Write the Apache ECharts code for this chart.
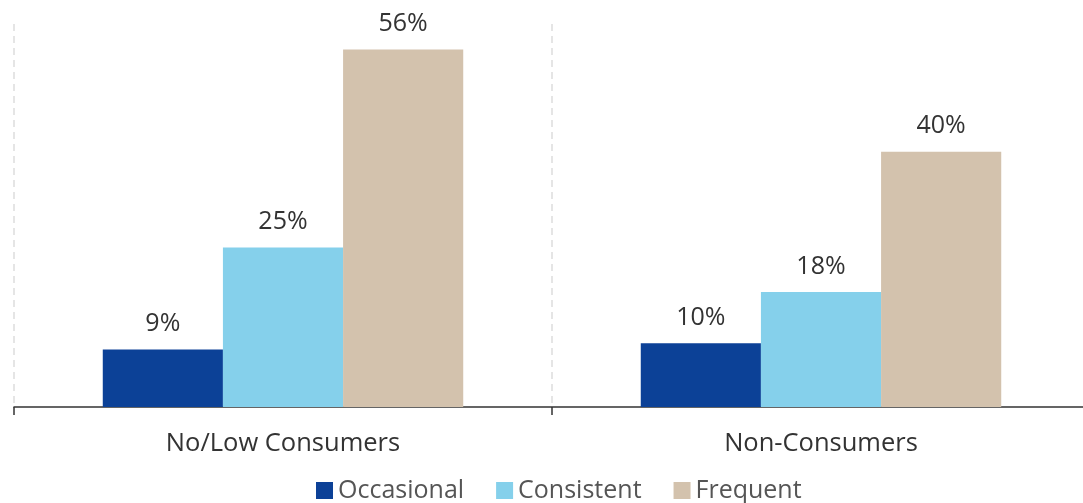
<!DOCTYPE html>
<html>
<head>
<meta charset="utf-8">
<script src="https://cdn.jsdelivr.net/npm/echarts@6/dist/echarts.min.js"></script>
<style>
  html, body { margin: 0; padding: 0; background: #fff; }
  #chart { width: 1083px; height: 503px; }
</style>
</head>
<body>
<div id="chart"></div>
<script>
// Consumer groups along the x axis
const categories = ['No/Low Consumers', 'Non-Consumers'];
// Share of each usage frequency, in percent
const occasional = [9, 10];
const consistent = [25, 18];
const frequent = [56, 40];

const font = '"Open Sans", "Noto Sans", sans-serif';

function barSeries(name, data, color) {
  return {
    name: name,
    type: 'bar',
    data: data,
    barGap: '0%',
    barCategoryGap: '33%',
    itemStyle: { color: color },
    label: {
      show: true,
      position: 'top',
      distance: 13,
      formatter: '{c}%',
      fontFamily: font,
      fontSize: 25,
      color: '#333'
    }
  };
}

const chart = echarts.init(document.getElementById('chart'));
chart.setOption({
  animation: false,
  // the plot runs slightly past the right edge so each group spans 538px
  grid: {
    left: 14, width: 1076, top: 24, bottom: 96,
    containLabel: false, outerBoundsMode: 'none'
  },
  legend: {
    top: 473,
    left: 311,
    itemWidth: 17,
    itemHeight: 17,
    itemGap: 32,
    icon: 'rect',
    textStyle: { fontFamily: font, fontSize: 25, color: '#555' },
    data: ['Occasional', 'Consistent', 'Frequent']
  },
  xAxis: {
    type: 'category',
    data: categories,
    axisLine: { lineStyle: { color: '#333', width: 1.5 } },
    axisTick: { show: true, length: 8, lineStyle: { color: '#333', width: 1.5 } },
    axisLabel: { fontFamily: font, fontSize: 25.5, color: '#333', margin: 24 },
    splitLine: { show: true, lineStyle: { color: '#ddd', type: [7, 5], width: 1.5 } }
  },
  yAxis: {
    type: 'value',
    min: 0,
    max: 60,
    show: false,
    splitLine: { show: false }
  },
  series: [
    barSeries('Occasional', occasional, '#0c4197'),
    barSeries('Consistent', consistent, '#85d0eb'),
    barSeries('Frequent', frequent, '#d3c2ad')
  ]
});
</script>
</body>
</html>
